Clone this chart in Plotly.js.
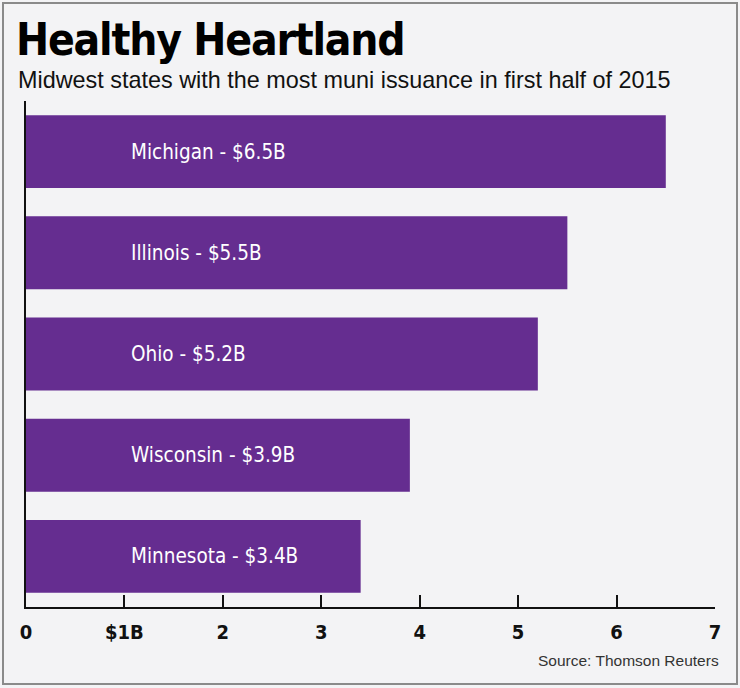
<!DOCTYPE html>
<html>
<head>
<meta charset="utf-8">
<script src="https://cdn.plot.ly/plotly-3.0.1.min.js"></script>
<style>
  html, body { margin: 0; padding: 0; background: #ffffff; }
  #wrap { position: relative; width: 740px; height: 688px; }
  #chart { width: 740px; height: 688px; }
  #frame { position: absolute; left: 2px; top: 2px; width: 732px; height: 679px;
           border: 2px solid #8a8a8a; pointer-events: none; }
  .gtitle { letter-spacing: -1.2px; }
</style>
</head>
<body>
<div id="wrap">
  <div id="chart"></div>
  <div id="frame"></div>
</div>
<script>
// Data
const states = ["Michigan", "Illinois", "Ohio", "Wisconsin", "Minnesota"];
const issuance = [6.5, 5.5, 5.2, 3.9, 3.4];
const valueLabels = ["$6.5B", "$5.5B", "$5.2B", "$3.9B", "$3.4B"];
const tickValues = [0, 1, 2, 3, 4, 5, 6, 7];
const tickLabels = ["0", "$1B", "2", "3", "4", "5", "6", "7"];

const narrow = "'Liberation Sans Narrow', 'DejaVu Sans Condensed', 'DejaVu Sans', sans-serif";

const trace = {
  type: "bar",
  orientation: "h",
  y: states,
  x: issuance,
  marker: { color: "#652d90", line: { width: 0 } },
  hoverinfo: "none"
};

const annotations = states.map((s, i) => ({
  xref: "paper", yref: "y",
  x: 0.149, y: s,
  xanchor: "left", yanchor: "middle",
  text: s + " - " + valueLabels[i],
  showarrow: false,
  font: { family: narrow, size: 20.5, color: "#ffffff", stretch: "condensed" }
}));

annotations.push({
  xref: "paper", yref: "paper",
  x: 1.009, y: -0.105,
  xanchor: "right", yanchor: "middle",
  text: "Source: Thomson Reuters",
  showarrow: false,
  font: { family: "'Liberation Sans', Arial, sans-serif", size: 15.5, color: "#333333" }
});

annotations.push({
  xref: "paper", yref: "paper",
  x: (16 - 26) / 689, y: (607 - 80) / 506,
  xanchor: "left", yanchor: "middle",
  text: "Midwest states with the most muni issuance in first half of 2015",
  showarrow: false,
  font: { family: "'Liberation Sans', Arial, sans-serif", size: 23.4, color: "#111111" }
});

const layout = {
  width: 740, height: 688,
  paper_bgcolor: "#f3f3f5",
  plot_bgcolor: "#f3f3f5",
  margin: { l: 26, r: 25, t: 101, b: 81, pad: 0 },
  showlegend: false,
  bargap: 0.28,
  title: {
    text: "<b>Healthy Heartland</b>",
    xref: "container", yref: "container",
    x: 16 / 740, y: 1 - 40 / 688,
    xanchor: "left", yanchor: "middle",
    font: { family: narrow, size: 44, color: "#000000", stretch: "condensed" }
  },
  xaxis: {
    range: [0, 7],
    tickmode: "array",
    tickvals: tickValues,
    ticktext: tickLabels,
    ticks: "inside",
    ticklen: 12,
    tickwidth: 2,
    tickcolor: "#111111",
    showline: true,
    linecolor: "#111111",
    linewidth: 2,
    showgrid: false,
    zeroline: false,
    ticklabelstandoff: 6,
    tickfont: { family: narrow, size: 20, color: "#111111", weight: "bold", stretch: "condensed" },
    fixedrange: true
  },
  yaxis: {
    categoryorder: "array",
    categoryarray: states.slice().reverse(),
    showticklabels: false,
    ticks: "",
    showline: true,
    linecolor: "#111111",
    linewidth: 2,
    showgrid: false,
    zeroline: false,
    fixedrange: true
  },
  annotations: annotations
};

Plotly.newPlot("chart", [trace], layout, { displayModeBar: false, staticPlot: true });
</script>
</body>
</html>
